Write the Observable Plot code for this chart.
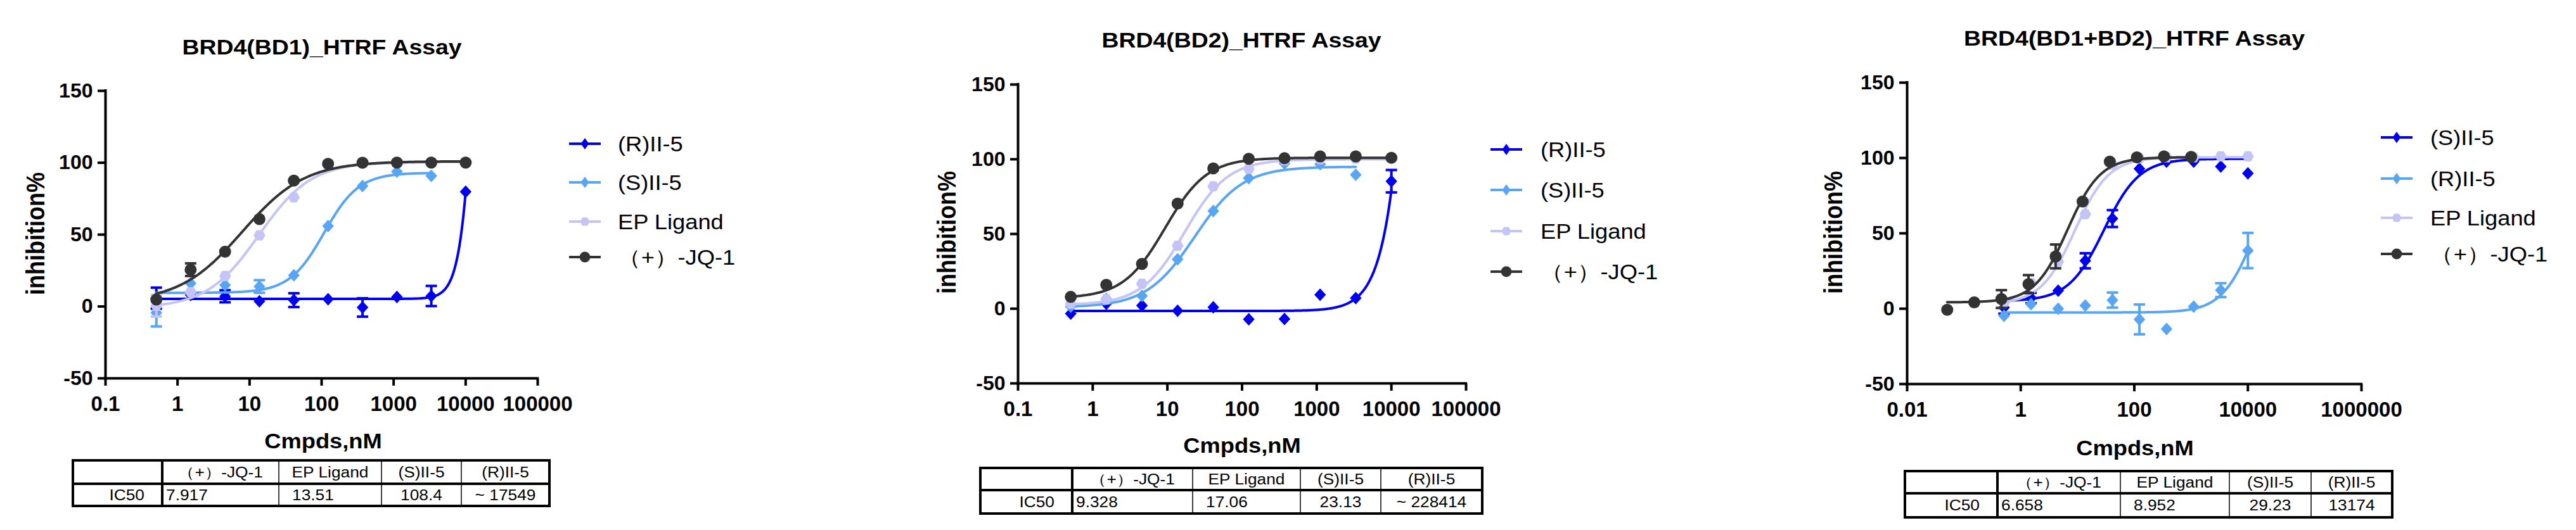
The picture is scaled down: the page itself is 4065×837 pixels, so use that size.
<!DOCTYPE html>
<html><head><meta charset="utf-8">
<script src="https://cdn.jsdelivr.net/npm/d3@7"></script>
<script src="https://cdn.jsdelivr.net/npm/@observablehq/plot@0.6"></script>
<style>
html,body{margin:0;padding:0;background:#fff;}
#root{position:relative;width:4065px;height:837px;overflow:hidden;background:#fff;color:#000;}
#root svg{position:absolute;top:0;overflow:visible;}
</style></head><body><div id="root"></div>
<script>
// ---------------- DATA ----------------
const titles = ["BRD4(BD1)_HTRF Assay", "BRD4(BD2)_HTRF Assay", "BRD4(BD1+BD2)_HTRF Assay"];
const yLabel = "inhibition%";
const xLabel = "Cmpds,nM";
const yTicks = [-50, 0, 50, 100, 150];
const xTicksA = [0.1, 1, 10, 100, 1000, 10000, 100000];
const xTicksB = [0.01, 1, 100, 10000, 1000000];

// concentrations (nM)
const conc = [0.508, 1.52, 4.57, 13.7, 41.2, 123, 370, 1111, 3333, 10000];
const concJQ3 = [0.0508, 0.152, 0.457, 1.37, 4.12, 12.3, 37, 111, 333, 1000];

// BRD4(BD1)
const bd1_R = [5.8, 8.0, 7.1, 3.6, 4.4, 5.1, -0.7, 6.6, 7.3, 79.9];
const bd1_R_sd = [7.3, 0, 4.2, 0, 4.8, 0, 6.4, 0, 7.0, 0];
const bd1_S = [-4.4, 16.1, 14.9, 13.9, 21.7, 56.0, 83.8, 93.8, 90.9, null];
const bd1_S_sd = [9.5, 0, 0, 4.4, 0, 0, 0, 0, 0, 0];
const bd1_EP = [0.5, 10.0, 21.2, 49.5, 75.9, 98.9, 99.8, 100.0, 100.2, 100.2];
const bd1_EP_sd = [7.5, 0, 0, 0, 0, 0, 0, 0, 0, 0];
const bd1_JQ = [4.8, 25.6, 38.1, 60.8, 87.6, 99.2, 100.0, 100.1, 100.1, 100.1];
const bd1_JQ_sd = [0, 4.4, 0, 0, 0, 0, 0, 0, 0, 0];

// BRD4(BD2)
const bd2_R = [-3.3, 3.3, 2.1, -1.4, 1.0, -7.1, -6.9, 9.3, 7.1, 85.3];
const bd2_R_sd = [0, 0, 0, 0, 0, 0, 0, 0, 0, 7.5];
const bd2_S = [1.4, 6.7, 8.6, 33.1, 65.4, 87.4, 97.1, 96.7, 89.6, null];
const bd2_S_sd = [0, 0, 0, 0, 0, 0, 0, 0, 0, 0];
const bd2_EP = [3.3, 6.4, 16.7, 42.1, 81.9, 93.6, 99.3, 100.0, 100.4, 100.7];
const bd2_EP_sd = [0, 0, 0, 0, 0, 0, 0, 0, 0, 0];
const bd2_JQ = [7.9, 16.0, 30.0, 70.3, 93.9, 100.3, 100.7, 101.9, 101.9, 101.0];
const bd2_JQ_sd = [0, 0, 0, 0, 0, 0, 0, 0, 0, 0];

// BRD4(BD1+BD2)
const bd12_S = [0.7, 7.1, 12.0, 31.8, 59.8, 92.9, 97.6, 97.6, 94.3, 89.8];
const bd12_S_sd = [4.0, 3.5, 0, 5.0, 5.6, 0, 0, 0, 0, 0];
const bd12_R = [-4.7, 3.0, 0.0, 2.1, 5.7, -7.1, -13.4, 1.4, 12.3, 38.6];
const bd12_R_sd = [0, 0, 0, 0, 5.0, 9.9, 0, 0, 4.6, 11.7];
const bd12_EP = [4.0, 17.0, 31.1, 62.7, 95.5, 99.7, 100.4, 100.4, 101.1, 101.1];
const bd12_EP_sd = [0, 0, 0, 0, 0, 0, 0, 0, 0, 0];
const bd12_JQ = [-0.7, 4.2, 6.4, 16.3, 34.7, 71.1, 97.6, 100.4, 101.1, 100.7];
const bd12_JQ_sd = [0, 0, 5.9, 6.0, 7.9, 0, 0, 0, 0, 0];

// fitted 4-parameter curves: [bottom, top, IC50 (nM), hill]  and curve span [from, to] (nM)
const bd1_fit_R = [5.3, 710, 17549, 3.8],   bd1_span_R = [0.508, 10000];
const bd1_fit_S = [9.5, 93, 108.4, 1.8],    bd1_span_S = [0.508, 3333];
const bd1_fit_EP = [-1, 100.5, 13.51, 1.2], bd1_span_EP = [0.508, 10000];
const bd1_fit_JQ = [3, 101, 7.917, 1.0],    bd1_span_JQ = [0.508, 10000];
const bd2_fit_R = [-1.5, 50900, 228414, 2.06], bd2_span_R = [0.508, 10000];
const bd2_fit_S = [1, 95, 23.13, 1.35],     bd2_span_S = [0.508, 3333];
const bd2_fit_EP = [2.5, 100, 17.06, 1.5],  bd2_span_EP = [0.508, 10000];
const bd2_fit_JQ = [7, 101, 9.328, 1.55],   bd2_span_JQ = [0.508, 10000];
const bd12_fit_S = [5, 99.5, 29.23, 1.4],   bd12_span_S = [0.508, 10000];
const bd12_fit_R = [-2.5, 100, 13174, 1.5], bd12_span_R = [0.508, 10000];
const bd12_fit_EP = [3, 100.5, 8.952, 1.45], bd12_span_EP = [0.508, 10000];
const bd12_fit_JQ = [4.2, 100.5, 6.658, 1.5], bd12_span_JQ = [0.0508, 1000];

// IC50 tables
const tableHeader = ["（+）-JQ-1", "EP Ligand", "(S)II-5", "(R)II-5"];
const tableRowLabel = "IC50";
const ic50_bd1 = ["7.917", "13.51", "108.4", "~ 17549"];
const ic50_bd2 = ["9.328", "17.06", "23.13", "~ 228414"];
const ic50_bd12 = ["6.658", "8.952", "29.23", "13174"];

// ---------------- STYLE ----------------
const FONT = '"Liberation Sans", Arial, Helvetica, sans-serif';
const C_DARKBLUE = "#0000ee", C_LIGHTBLUE = "#58a5f4", C_LAVENDER = "#c4c4f7", C_DARK = "#333333";
const SX = 1.1; // horizontal stretch of the original picture

function diamond(ratio) {
  return {draw(ctx, size) { const r = Math.sqrt(size / Math.PI), w = r * ratio;
    ctx.moveTo(0, -r); ctx.lineTo(w, 0); ctx.lineTo(0, r); ctx.lineTo(-w, 0); ctx.closePath(); }};
}
const hexagon = {draw(ctx, size) { const r = Math.sqrt(size / Math.PI);
  for (let k = 0; k < 6; ++k) { const a = k * Math.PI / 3; const px = r * Math.cos(a), py = r * Math.sin(a);
    k ? ctx.lineTo(px, py) : ctx.moveTo(px, py); } ctx.closePath(); }};
const cap = {draw(ctx, size) { const r = Math.sqrt(size / Math.PI); ctx.moveTo(-r, 0); ctx.lineTo(r, 0); }};
const dataDiamond = diamond(0.92), legendDiamond = diamond(0.72);

const shapes = {
  diamond: {plot: dataDiamond, r: 10, legend: legendDiamond, lr: 9},
  hexagon: {plot: hexagon, r: 9.3, legend: hexagon, lr: 7.6},
  circle: {plot: "circle", r: 9.5, legend: d3.symbolCircle, lr: 8.4}
};

const charts = [
  {title: titles[0], offset: 0, axis: {left: 166, right: 848, top: 143, bottom: 597},
   xDomain: [0.1, 100000], xTicks: xTicksA,
   titlePos: [508, 86], yLabelPos: [70, 369], xLabelPos: [510, 708],
   legend: {mx: 923, tx: 975, rows: [227, 288, 350, 406]},
   table: {left: 115, right: 867, top: 727, mid: 764, bottom: 799, cols: [256, 440, 602, 728]},
   ic50: ic50_bd1,
   series: [
     {label: "(R)II-5", color: C_DARKBLUE, shape: "diamond", x: conc, y: bd1_R, sd: bd1_R_sd, fit: bd1_fit_R, span: bd1_span_R},
     {label: "(S)II-5", color: C_LIGHTBLUE, shape: "diamond", x: conc, y: bd1_S, sd: bd1_S_sd, fit: bd1_fit_S, span: bd1_span_S},
     {label: "EP Ligand", color: C_LAVENDER, shape: "hexagon", x: conc, y: bd1_EP, sd: bd1_EP_sd, fit: bd1_fit_EP, span: bd1_span_EP},
     {label: "（+）-JQ-1", color: C_DARK, shape: "circle", x: conc, y: bd1_JQ, sd: bd1_JQ_sd, fit: bd1_fit_JQ, span: bd1_span_JQ}
   ]},
  {title: titles[1], offset: 1355, axis: {left: 1606, right: 2313, top: 133, bottom: 605},
   xDomain: [0.1, 100000], xTicks: xTicksA,
   titlePos: [1959, 75], yLabelPos: [1508, 367], xLabelPos: [1960, 715],
   legend: {mx: 2377, tx: 2431, rows: [236, 300, 365, 429]},
   table: {left: 1547, right: 2339, top: 739, mid: 774, bottom: 811, cols: [1692, 1882, 2052, 2179]},
   ic50: ic50_bd2,
   series: [
     {label: "(R)II-5", color: C_DARKBLUE, shape: "diamond", x: conc, y: bd2_R, sd: bd2_R_sd, fit: bd2_fit_R, span: bd2_span_R},
     {label: "(S)II-5", color: C_LIGHTBLUE, shape: "diamond", x: conc, y: bd2_S, sd: bd2_S_sd, fit: bd2_fit_S, span: bd2_span_S},
     {label: "EP Ligand", color: C_LAVENDER, shape: "hexagon", x: conc, y: bd2_EP, sd: bd2_EP_sd, fit: bd2_fit_EP, span: bd2_span_EP},
     {label: "（+）-JQ-1", color: C_DARK, shape: "circle", x: conc, y: bd2_JQ, sd: bd2_JQ_sd, fit: bd2_fit_JQ, span: bd2_span_JQ}
   ]},
  {title: titles[2], offset: 2710, axis: {left: 3009, right: 3726, top: 130, bottom: 606},
   xDomain: [0.01, 1000000], xTicks: xTicksB,
   titlePos: [3368, 72], yLabelPos: [2907, 367], xLabelPos: [3369, 719],
   legend: {mx: 3782, tx: 3835, rows: [217, 282, 344, 401]},
   table: {left: 3006, right: 3775, top: 744, mid: 779, bottom: 817, cols: [3152, 3346, 3518, 3647]},
   ic50: ic50_bd12,
   series: [
     {label: "(S)II-5", color: C_DARKBLUE, shape: "diamond", x: conc, y: bd12_S, sd: bd12_S_sd, fit: bd12_fit_S, span: bd12_span_S},
     {label: "(R)II-5", color: C_LIGHTBLUE, shape: "diamond", x: conc, y: bd12_R, sd: bd12_R_sd, fit: bd12_fit_R, span: bd12_span_R},
     {label: "EP Ligand", color: C_LAVENDER, shape: "hexagon", x: conc, y: bd12_EP, sd: bd12_EP_sd, fit: bd12_fit_EP, span: bd12_span_EP},
     {label: "（+）-JQ-1", color: C_DARK, shape: "circle", x: concJQ3, y: bd12_JQ, sd: bd12_JQ_sd, fit: bd12_fit_JQ, span: bd12_span_JQ}
   ]}
];

const W = 1355, H = 837;
const root = document.getElementById("root");

function fitCurve(fit, span) {
  const [b, t, ic, h] = fit, l0 = Math.log10(span[0]), l1 = Math.log10(span[1]), N = 300;
  return d3.range(N + 1).map(i => {
    const lx = l0 + (l1 - l0) * i / N;
    return {x: 10 ** lx, y: b + (t - b) / (1 + 10 ** ((Math.log10(ic) - lx) * h))};
  });
}

for (const c of charts) {
  const marks = [];
  for (const s of c.series) {
    const sh = shapes[s.shape];
    const pts = s.x.map((x, i) => ({x, y: s.y[i], sd: s.sd[i]})).filter(d => d.y != null);
    const eb = pts.filter(d => d.sd > 0);
    marks.push(Plot.line(fitCurve(s.fit, s.span), {x: "x", y: "y", stroke: s.color, strokeWidth: 4}));
    marks.push(Plot.ruleX(eb, {x: "x", y1: d => d.y - d.sd, y2: d => d.y + d.sd, stroke: s.color, strokeWidth: 4}));
    marks.push(Plot.dot(eb.flatMap(d => [{x: d.x, y: d.y - d.sd}, {x: d.x, y: d.y + d.sd}]),
      {x: "x", y: "y", symbol: cap, r: 9, fill: "none", stroke: s.color, strokeWidth: 4}));
    marks.push(Plot.dot(pts, {x: "x", y: "y", symbol: sh.plot, r: sh.r, fill: s.color, stroke: "none"}));
  }
  const svg = Plot.plot({
    width: W, height: H,
    marginLeft: c.axis.left - c.offset, marginRight: c.offset + W - c.axis.right,
    marginTop: c.axis.top, marginBottom: H - c.axis.bottom,
    style: {background: "transparent", fontFamily: FONT, color: "#000", overflow: "visible"},
    x: {type: "log", domain: c.xDomain},
    y: {domain: [-50, 150]},
    marks: [
      Plot.axisY({ticks: yTicks, tickSize: 12, tickPadding: 8, strokeWidth: 4, fontSize: 32, fontWeight: "bold", label: null, tickFormat: d => String(d)}),
      Plot.axisX({ticks: c.xTicks, tickSize: 12, tickPadding: 16, strokeWidth: 4, fontSize: 33, fontWeight: "bold", label: null, tickFormat: d => String(d)}),
      Plot.ruleX([c.xDomain[0]], {y1: -50, y2: 150, strokeWidth: 4, strokeLinecap: "square"}),
      Plot.ruleY([-50], {x1: c.xDomain[0], x2: c.xDomain[1], strokeWidth: 4, strokeLinecap: "square"}),
      ...marks
    ]
  });
  svg.style.left = c.offset + "px";
  root.appendChild(svg);
}

// ---------------- overlay: titles, labels, legends, tables ----------------
const ov = d3.create("svg").attr("width", 4065).attr("height", 837)
  .style("left", "0px").attr("font-family", FONT);

function hText(x, y, str, size, weight, anchor, sx = SX) {
  return ov.append("text").attr("transform", `translate(${x},${y}) scale(${sx},1)`)
    .attr("text-anchor", anchor).attr("font-size", size).attr("font-weight", weight)
    .attr("fill", "#000").text(str);
}

for (const c of charts) {
  hText(c.titlePos[0], c.titlePos[1], c.title, 34, "bold", "middle");
  hText(c.xLabelPos[0], c.xLabelPos[1], xLabel, 33, "bold", "middle");
  ov.append("text").attr("transform", `translate(${c.yLabelPos[0]},${c.yLabelPos[1]}) rotate(-90) scale(1,1.14)`)
    .attr("text-anchor", "middle").attr("font-size", 36).attr("font-weight", "bold").attr("fill", "#000").text(yLabel);

  // legend
  c.series.forEach((s, i) => {
    const y = c.legend.rows[i], sh = shapes[s.shape];
    ov.append("line").attr("x1", c.legend.mx - 25).attr("x2", c.legend.mx + 25).attr("y1", y).attr("y2", y)
      .attr("stroke", s.color).attr("stroke-width", 4);
    ov.append("path").attr("transform", `translate(${c.legend.mx},${y})`)
      .attr("d", d3.symbol().type(sh.legend).size(Math.PI * sh.lr * sh.lr)()).attr("fill", s.color);
    hText(c.legend.tx, y, s.label, 33, "normal", "start").attr("dy", "0.36em");
  });

  // table
  const t = c.table, fs = 23.5;
  const g = ov.append("g");
  g.append("rect").attr("x", t.left).attr("y", t.top).attr("width", t.right - t.left).attr("height", t.bottom - t.top)
    .attr("fill", "none").attr("stroke", "#000").attr("stroke-width", 4);
  g.append("line").attr("x1", t.left).attr("x2", t.right).attr("y1", t.mid).attr("y2", t.mid).attr("stroke", "#000").attr("stroke-width", 4);
  t.cols.forEach((cx, i) => g.append("line").attr("x1", cx).attr("x2", cx).attr("y1", t.top).attr("y2", t.bottom)
    .attr("stroke", "#000").attr("stroke-width", i === 0 ? 4 : 1.5));
  const edges = [...t.cols, t.right];
  const yh = (t.top + t.mid) / 2 + fs * 0.36, yv = (t.mid + t.bottom) / 2 + fs * 0.36;
  tableHeader.forEach((h, i) => hText((edges[i] + edges[i + 1]) / 2, yh, h, fs, "normal", "middle", 1.12));
  hText(t.cols[0] - 28, yv, tableRowLabel, fs, "normal", "end", 1.12);
  hText(t.cols[0] + 6, yv, c.ic50[0], fs, "normal", "start", 1.12);
  hText(t.cols[1] + 21, yv, c.ic50[1], fs, "normal", "start", 1.12);
  hText((edges[2] + edges[3]) / 2, yv, c.ic50[2], fs, "normal", "middle", 1.12);
  hText((edges[3] + edges[4]) / 2, yv, c.ic50[3], fs, "normal", "middle", 1.12);
}
root.appendChild(ov.node());
</script>
</body></html>
